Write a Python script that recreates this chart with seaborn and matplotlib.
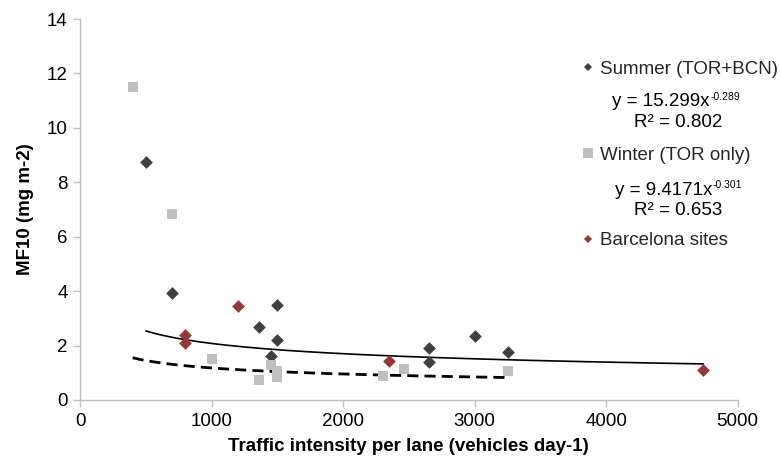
import numpy as np
import pandas as pd
import matplotlib
matplotlib.use("Agg")
import matplotlib.pyplot as plt
from matplotlib.lines import Line2D
import seaborn as sns

# ---- data ----
summer_x = [500, 700, 1360, 1450, 1500, 1500, 2650, 2650, 3000, 3250]
summer_y = [8.75, 3.95, 2.7, 1.6, 3.5, 2.2, 1.9, 1.4, 2.35, 1.75]
winter_x = [400, 700, 1000, 1360, 1450, 1500, 1500, 2300, 2460, 3250]
winter_y = [11.5, 6.85, 1.5, 0.75, 1.3, 1.05, 0.85, 0.9, 1.15, 1.05]
bcn_x = [800, 800, 1200, 2350, 4740]
bcn_y = [2.4, 2.1, 3.45, 1.45, 1.1]

series_names = ["Summer (TOR+BCN)", "Winter (TOR only)", "Barcelona sites"]

# power-law trend lines (as printed on the chart): y = a * x^b
summer_fit = dict(a=15.299, b=-0.289, r2="0.802", xmin=500, xmax=4740)
winter_fit = dict(a=9.4171, b=-0.301, r2="0.653", xmin=400, xmax=3250)

x_ticks = [0, 1000, 2000, 3000, 4000, 5000]
y_ticks = [0, 2, 4, 6, 8, 10, 12, 14]

# ---- styling ----
sns.set_theme(style="white")
plt.rcParams["font.family"] = ["Liberation Sans", "DejaVu Sans"]

FS = 13.5
colors = {series_names[0]: "#404040", series_names[1]: "#BFBFBF", series_names[2]: "#953735"}
markers = {series_names[0]: "D", series_names[1]: "s", series_names[2]: "D"}
sizes = {series_names[0]: 42, series_names[1]: 62, series_names[2]: 42}

df = pd.concat([
    pd.DataFrame({"x": summer_x, "y": summer_y, "series": series_names[0]}),
    pd.DataFrame({"x": winter_x, "y": winter_y, "series": series_names[1]}),
    pd.DataFrame({"x": bcn_x, "y": bcn_y, "series": series_names[2]}),
], ignore_index=True)

W, H = 780, 466
fig = plt.figure(figsize=(7.8, 4.66), dpi=100)
ax = fig.add_axes([80 / W, 1 - 400 / H, (737.7 - 80) / W, (400 - 19) / H])

# trend lines
for fit, ls, lw in [(summer_fit, "-", 1.2), (winter_fit, (0, (4, 2.2)), 2.0)]:
    xs = np.linspace(fit["xmin"], fit["xmax"], 200)
    tdf = pd.DataFrame({"x": xs, "y": fit["a"] * xs ** fit["b"]})
    sns.lineplot(data=tdf, x="x", y="y", ax=ax, color="black", lw=lw,
                 linestyle=ls, legend=False, zorder=2)

# scatter points
for name in series_names:
    sub = df[df["series"] == name]
    sns.scatterplot(data=sub, x="x", y="y", ax=ax, color=colors[name],
                    marker=markers[name], s=sizes[name], linewidth=0,
                    legend=False, zorder=3)

ax.set_xlim(0, 5000)
ax.set_ylim(0, 14)
ax.set_xticks(x_ticks)
ax.set_yticks(y_ticks)
ax.set_xticklabels([str(v) for v in x_ticks])
ax.set_yticklabels([str(v) for v in y_ticks])

for s in ["top", "right"]:
    ax.spines[s].set_visible(False)
for s in ["left", "bottom"]:
    ax.spines[s].set_color("#BFBFBF")
    ax.spines[s].set_linewidth(1.0)
ax.tick_params(axis="both", which="major", direction="out", length=5,
               width=1.0, color="#BFBFBF", labelsize=FS, labelcolor="black",
               pad=4, left=True, bottom=True)

ax.set_xlabel("Traffic intensity per lane (vehicles day-1)", fontsize=FS,
              fontweight="bold", labelpad=6, color="black")
ax.set_ylabel("MF10 (mg m-2)", fontsize=FS, fontweight="bold", labelpad=9,
              color="black")

# legend
handles = [
    Line2D([], [], linestyle="none", marker="D", markersize=4.5,
           markerfacecolor=colors[series_names[0]], markeredgewidth=0),
    Line2D([], [], linestyle="none", marker="s", markersize=7,
           markerfacecolor=colors[series_names[1]], markeredgewidth=0),
    Line2D([], [], linestyle="none", marker="D", markersize=4.5,
           markerfacecolor=colors[series_names[2]], markeredgewidth=0),
]
leg = ax.legend(handles, series_names, loc="center left",
                bbox_to_anchor=(581 / W, 1 - 155 / H),
                bbox_transform=fig.transFigure, frameon=False, fontsize=FS,
                handlelength=0.7, handletextpad=0.3, labelspacing=3.65,
                borderpad=0, borderaxespad=0)

# trend-line equations (base text + small superscript exponent)
for fit, xsplit, yb, yr in [(summer_fit, 710, 106, 127), (winter_fit, 712, 195, 215)]:
    fig.text(xsplit / W, 1 - yb / H, f"y = {fit['a']}x", ha="right",
             va="baseline", fontsize=FS, color="black")
    fig.text((xsplit + 0.5) / W, 1 - (yb - 6.5) / H, f"{fit['b']:.3f}",
             ha="left", va="baseline", fontsize=7.5, color="black")
    fig.text(678 / W, 1 - yr / H, "R² = " + fit["r2"], ha="center",
             va="baseline", fontsize=FS, color="black")

fig.savefig("out.png", dpi=100, facecolor="white")
